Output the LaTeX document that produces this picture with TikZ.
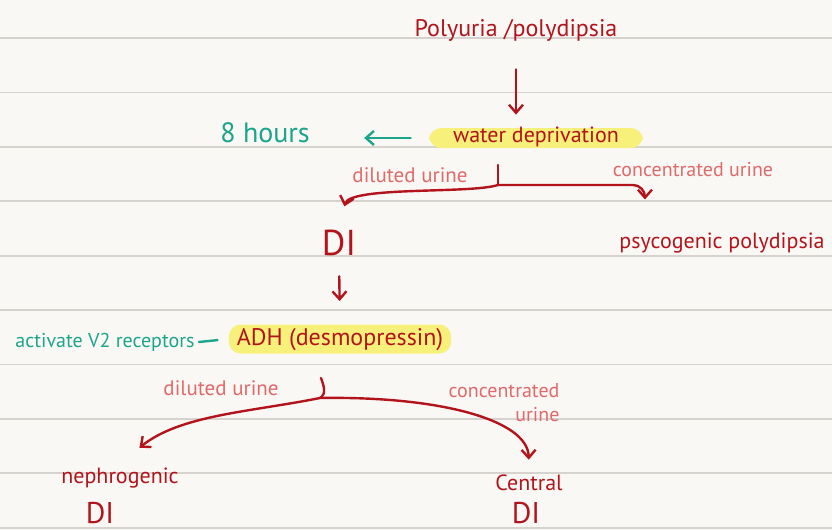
\documentclass[tikz,border=0pt]{standalone}
\usepackage{fontspec}
\setmainfont{PT Sans}
\usetikzlibrary{positioning, calc, arrows.meta}

\definecolor{paper}{HTML}{FAF8F5}
\definecolor{ruling}{HTML}{D6D3CF}
\definecolor{inkred}{HTML}{B3141C}
\definecolor{inkpink}{HTML}{E06A6A}
\definecolor{inkgreen}{HTML}{1BA58A}
\definecolor{marker}{HTML}{F7F07A}

\begin{document}
\begin{tikzpicture}[
    x=0.5pt, y=-0.5pt,
    line cap=round, line join=round,
    ink/.style={text=inkred, font=\fontsize{11}{13}\selectfont, inner sep=2pt},
    note/.style={text=inkpink, font=\fontsize{10}{12}\selectfont, inner sep=1pt},
    aside/.style={text=inkgreen, font=\fontsize{10}{12}\selectfont, inner sep=2pt},
    marked/.style={ink, fill=marker, rounded corners=6pt, inner ysep=2pt},
    flow/.style={draw=inkred, line width=1.2pt, -{Straight Barb[length=4pt, width=7pt]}},
    fork/.style={draw=inkred, line width=1.2pt},
    pointer/.style={draw=inkgreen, line width=1.2pt}
]

    % ================= PAPER =================
    \fill[paper] (0,0) rectangle (832,530);
    \useasboundingbox (0,0) rectangle (832,530);
    \foreach \i in {0,...,9}
        \draw[ruling, line width=0.9pt] (0,{38+54.4*\i}) -- (832,{38+54.4*\i});

    % ================= TOP =================
    \node[ink, font=\fontsize{12}{14}\selectfont] (poly) at (516,30) {Polyuria /polydipsia};
    \node[marked, text height=5pt, text depth=1pt, inner xsep=12pt] (water) at (536,138) {water deprivation};
    \node[aside, font=\fontsize{14}{16}\selectfont] (hours) at (265,133) {8 hours};

    \draw[flow, shorten <=12pt, shorten >=6.5pt] (poly.south) -- (poly.south |- water.north);
    \draw[pointer, -{Straight Barb[length=4pt, width=7pt]}, shorten <=9pt, shorten >=25pt] (water.west) -- (hours.east |- water.west);

    % ================= FIRST SPLIT =================
    \node[note, font=\fontsize{10.5}{12}\selectfont] (dil1) at (410,175) {diluted urine};
    \node[note] (con1) at (693,170) {concentrated urine};
    \node[ink, font=\fontsize{18}{20}\selectfont] (di) at (339,243) {DI};
    \node[ink] (psy) at (722,243) {psycogenic polydipsia};

    \coordinate (fork1top) at (498,165);
    \coordinate (fork1) at (498,185);
    \draw[fork] (fork1top) -- (fork1);
    \draw[flow, shorten >=10pt] (fork1) .. controls (470,194) and (350,186) .. (di.north);
    \draw[flow, rounded corners=6pt, shorten >=14.5pt] (fork1) -| ($(psy.north west)!0.14!(psy.north east)$);

    % ================= ADH TEST =================
    \node[marked, font=\fontsize{12}{14}\selectfont, text height=8.5pt, text depth=2pt, inner xsep=4pt] (adh) at (340,339) {ADH (desmopressin)};
    \node[aside] (v2) at (105,342) {activate V2 receptors};

    \draw[flow, shorten <=8pt, shorten >=11.5pt] (di.south) -- (adh.north);
    \draw[pointer, shorten >=5.5pt] (v2.east) -- (adh.west);

    % ================= SECOND SPLIT =================
    \node[note, font=\fontsize{10.5}{12}\selectfont] (dil2) at (221,388) {diluted urine};
    \node[note, align=right] (con2) at (504,403) {concentrated\\urine};
    \node[ink] (nephro) at (120,478) {nephrogenic};
    \node[ink, font=\fontsize{15}{17}\selectfont] (nephrodi) at (100,513) {DI};
    \node[ink] (central) at (529,483) {Central};
    \node[ink, font=\fontsize{15}{17}\selectfont] (centraldi) at (526,513) {DI};

    \coordinate (fork2top) at (321,378);
    \coordinate (fork2) at (320,398);
    \draw[fork] (fork2top) to[out=-70, in=30] (fork2);
    \draw[flow, shorten >=12.5pt] (fork2) .. controls (250,412) and (180,415) .. (nephro.north);
    \draw[flow, shorten >=5.5pt] (fork2) .. controls (440,396) and (528,420) .. (central.north);

\end{tikzpicture}
\end{document}
